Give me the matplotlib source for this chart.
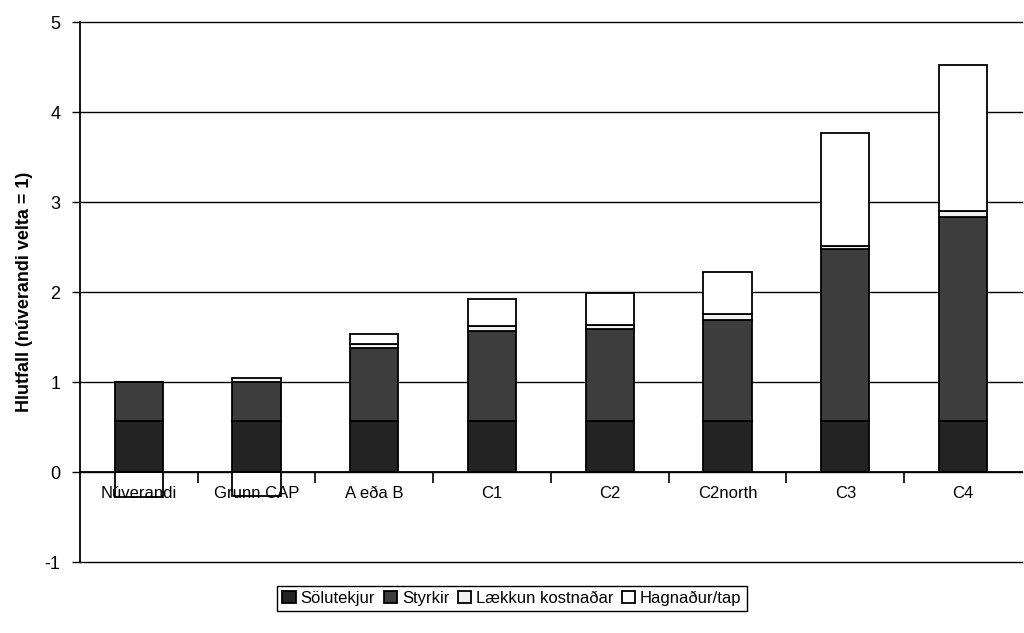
# stacked bars: revenue ratio per scenario (núverandi velta = 1)

import numpy as np
import matplotlib.pyplot as plt

plt.rcParams['font.family'] = ['Liberation Sans', 'DejaVu Sans']
plt.rcParams['axes.unicode_minus'] = False

categories = ['Núverandi', 'Grunn CAP', 'A eða B', 'C1', 'C2', 'C2north', 'C3', 'C4']
solutekjur = [0.57, 0.57, 0.57, 0.57, 0.57, 0.57, 0.57, 0.57]
styrkir = [0.43, 0.43, 0.81, 1.00, 1.02, 1.12, 1.91, 2.26]
laekkun = [0.00, 0.05, 0.04, 0.05, 0.05, 0.07, 0.03, 0.07]
hagnadur = [-0.28, -0.27, 0.12, 0.30, 0.35, 0.46, 1.26, 1.62]

series = [
    ('Sölutekjur', solutekjur, '#232323'),
    ('Styrkir', styrkir, '#3d3d3d'),
    ('Lækkun kostnaðar', laekkun, '#f0f0f0'),
    ('Hagnaður/tap', hagnadur, 'white'),
]

fig = plt.figure(figsize=(10.24, 6.33), dpi=100)
ax = fig.add_axes([0.078, 0.112, 0.920, 0.853])

x = np.arange(len(categories))
pos_bottom = np.zeros(len(categories))
neg_bottom = np.zeros(len(categories))
for name, vals, color in series:
    vals = np.array(vals)
    bottom = np.where(vals >= 0, pos_bottom, neg_bottom)
    ax.bar(x, vals, 0.41, bottom=bottom, color=color, edgecolor='black',
           linewidth=1.3, label=name, zorder=2)
    pos_bottom += np.where(vals >= 0, vals, 0)
    neg_bottom += np.where(vals < 0, vals, 0)

ax.set_xlim(-0.5, len(categories) - 0.5)
ax.set_ylim(-1, 5)
ax.set_yticks(range(-1, 6))
# gridlines behind the bars, axis (tick labels) on top of them
for yv in range(-1, 6):
    ax.axhline(yv, color='black', linewidth=1.0, zorder=1, clip_on=False)
ax.set_axisbelow(False)

ax.spines['top'].set_visible(False)
ax.spines['right'].set_visible(False)
ax.spines['bottom'].set_position(('data', 0))
ax.spines['left'].set_linewidth(1.3)
ax.spines['bottom'].set_linewidth(1.3)

ax.set_xticks(x)
ax.set_xticklabels(categories, fontsize=12)
ax.tick_params(axis='x', which='major', length=0, pad=10)
ax.set_xticks(x[:-1] + 0.5, minor=True)
ax.tick_params(axis='x', which='minor', length=8, width=1.2, direction='out')
ax.tick_params(axis='y', length=6, width=1.0, labelsize=13, pad=8)

ax.set_ylabel('Hlutfall (núverandi velta = 1)', fontsize=13, fontweight='bold', labelpad=8)

fig.legend(loc='center', bbox_to_anchor=(0.5, 0.055), ncol=4, fontsize=12,
           frameon=True, fancybox=False, edgecolor='black', framealpha=1,
           handlelength=0.8, handleheight=0.8, handletextpad=0.3,
           columnspacing=0.5, borderpad=0.3)

fig.savefig('out.png', dpi=100)
